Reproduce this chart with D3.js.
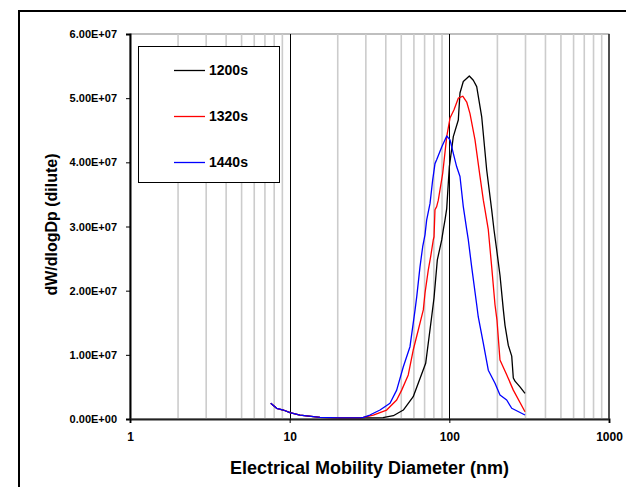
<!DOCTYPE html>
<html><head><meta charset="utf-8">
<script src="https://cdn.jsdelivr.net/npm/d3@7"></script>
<style>
html,body{margin:0;padding:0;background:#fff;overflow:hidden;}
text{font-family:Arial,"Liberation Sans",sans-serif;font-weight:bold;fill:#000;}
</style></head>
<body>
<svg id="chart" width="626" height="487"></svg>
<script>
// ---- data ----
const seriesNames = ["1200s", "1320s", "1440s"];
const seriesColors = ["#000000", "#ff0000", "#0000ff"];

const dp1200 = [7.61,8.29,9.12,10.05,11.6,15.5,20.7,27.6,38.4,44.6,51.5,59.4,71.1,77.5,80.2,84.1,89.6,91.7,93.9,96.3,100,105.9,113.8,116.6,122.3,133.4,141.3,148.4,159.5,171.4,184.2,190.4,198.1,207.6,217.9,223.2,234,245.9,251.6,257.8,277,297.8];
const v1200 = [0.245e7,0.167e7,0.14e7,0.098e7,0.062e7,0.026e7,0.016e7,0.016e7,0.02e7,0.051e7,0.14e7,0.348e7,0.868e7,1.594e7,1.89e7,2.48e7,2.79e7,2.95e7,3.10e7,3.28e7,3.93e7,4.40e7,4.66e7,5.08e7,5.26e7,5.345e7,5.28e7,5.18e7,4.71e7,3.88e7,3.26e7,2.95e7,2.63e7,2.24e7,1.70e7,1.46e7,1.15e7,0.98e7,0.64e7,0.59e7,0.50e7,0.40e7];

const dp1320 = [7.61,8.29,9.12,10.05,11.6,15.5,20.7,27.6,28.9,33.4,40.5,46.8,50.3,55.3,59.4,63.9,68.7,70.4,73.8,76.4,79.3,80.2,81.3,83.3,85.3,90.9,96.3,101,107,113.8,121.3,128.5,134.7,144.8,155.6,163.3,167.3,175.4,184.2,193.2,198.8,207.6,228.7,251.6,297.8];
const v1320 = [0.245e7,0.167e7,0.14e7,0.098e7,0.062e7,0.026e7,0.016e7,0.016e7,0.026e7,0.062e7,0.14e7,0.296e7,0.45e7,0.686e7,1.075e7,1.387e7,1.70e7,1.96e7,2.32e7,2.53e7,2.79e7,2.84e7,3.26e7,3.31e7,3.41e7,3.83e7,4.40e7,4.69e7,4.82e7,5.00e7,5.03e7,4.94e7,4.76e7,4.35e7,3.78e7,3.41e7,3.26e7,2.95e7,2.37e7,1.78e7,1.54e7,0.92e7,0.69e7,0.45e7,0.114e7];

const dp1440 = [7.61,8.29,9.12,10.05,11.6,15.5,20.7,27.6,28.9,31.8,36.8,42.5,46.8,51.5,56.7,61.0,62.5,65.5,68.1,70.4,72.1,75.7,78.6,81.3,83.3,89.6,96.3,101,105.9,111.2,116.6,122.3,128.5,131.5,138,148.4,151.8,163.3,175.4,193.2,207.6,228.7,245.9,297.8];
const v1440 = [0.245e7,0.167e7,0.14e7,0.098e7,0.062e7,0.026e7,0.016e7,0.016e7,0.026e7,0.062e7,0.14e7,0.245e7,0.45e7,0.815e7,1.127e7,1.70e7,1.906e7,2.37e7,2.685e7,2.87e7,3.10e7,3.36e7,3.72e7,3.98e7,4.04e7,4.24e7,4.41e7,4.35e7,4.14e7,3.93e7,3.78e7,3.31e7,2.95e7,2.79e7,2.37e7,1.78e7,1.59e7,1.18e7,0.76e7,0.556e7,0.374e7,0.296e7,0.167e7,0.062e7];

const xTicks = [1, 10, 100, 1000];
const xTickLabels = ["1", "10", "100", "1000"];
const xMinorGrid = [2,3,4,5,6,7,8,9,20,30,40,50,60,70,80,90,200,300,400,500,600,700,800,900];
const xMajorGrid = [10, 100];
const yTicks = [0, 1e7, 2e7, 3e7, 4e7, 5e7, 6e7];
const yTickLabels = ["0.00E+00","1.00E+07","2.00E+07","3.00E+07","4.00E+07","5.00E+07","6.00E+07"];
const xTitle = "Electrical Mobility Diameter (nm)";
const yTitle = "dW/dlogDp (dilute)";

// ---- drawing ----
const svg = d3.select("#chart");
const L = 130, R = 609, T = 34, B = 419;
const x = d3.scaleLog().domain([1, 1000]).range([L, R]);
const y = d3.scaleLinear().domain([0, 6e7]).range([B, T]);

// outer frame
svg.append("rect").attr("x", 19).attr("y", 11).attr("width", 800).attr("height", 600)
  .attr("fill", "#fff").attr("stroke", "#000").attr("stroke-width", 2);

// plot area
svg.append("rect").attr("x", L).attr("y", T).attr("width", R - L).attr("height", B - T)
  .attr("fill", "#fff").attr("stroke", "#808080").attr("stroke-width", 1);

// minor gridlines
svg.append("g").selectAll("line").data(xMinorGrid).join("line")
  .attr("x1", d => x(d)).attr("x2", d => x(d)).attr("y1", T).attr("y2", B)
  .attr("stroke", "#cccccc").attr("stroke-width", 1.6);
// major gridlines
svg.append("g").selectAll("line").data(xMajorGrid).join("line")
  .attr("x1", d => Math.round(x(d)) + 0.5).attr("x2", d => Math.round(x(d)) + 0.5).attr("y1", T).attr("y2", B)
  .attr("stroke", "#000").attr("stroke-width", 1);

// right border
svg.append("line").attr("x1", R).attr("x2", R).attr("y1", T).attr("y2", B)
  .attr("stroke", "#333").attr("stroke-width", 1.6);

// curves
const line = d3.line().x(d => x(d.dp)).y(d => y(d.v));
const seriesData = [
  dp1200.map((d, i) => ({dp: d, v: v1200[i]})),
  dp1320.map((d, i) => ({dp: d, v: v1320[i]})),
  dp1440.map((d, i) => ({dp: d, v: v1440[i]}))
];
// draw 1440 first? reference: blue on top in tail; draw black, red, blue
seriesData.forEach((s, i) => {
  svg.append("path").datum(s).attr("d", line)
    .attr("fill", "none").attr("stroke", seriesColors[i]).attr("stroke-width", 1.3)
    .attr("stroke-linejoin", "round");
});

// y axis
const yAxis = d3.axisLeft(y).tickValues(yTicks)
  .tickFormat((d, i) => yTickLabels[i]).tickSize(4).tickPadding(9);
const gy = svg.append("g").attr("transform", `translate(${L},0)`).call(yAxis);
gy.select(".domain").attr("stroke", "#000").attr("stroke-width", 2);
gy.selectAll(".tick line").attr("stroke", "#000").attr("stroke-width", 1);
gy.selectAll(".tick text").attr("font-size", 11).attr("font-weight", "bold")
  .attr("font-family", "Arial, 'Liberation Sans', sans-serif").attr("fill", "#000");

// x axis
const xAxis = d3.axisBottom(x).tickValues(xTicks)
  .tickFormat((d, i) => xTickLabels[i]).tickSize(4);
const gx = svg.append("g").attr("transform", `translate(0,${B})`).call(xAxis);
gx.select(".domain").attr("stroke", "#222").attr("stroke-width", 2);
gx.selectAll(".tick line").attr("stroke", "#000").attr("stroke-width", 1);
gx.selectAll(".tick text").attr("font-size", 12).attr("font-weight", "bold")
  .attr("font-family", "Arial, 'Liberation Sans', sans-serif").attr("fill", "#000")
  .attr("y", 22).attr("dy", null);

// titles
svg.append("text").attr("x", (L + R) / 2).attr("y", 473.5).attr("text-anchor", "middle")
  .attr("font-size", 18).text(xTitle);
svg.append("text").attr("transform", `translate(56.5,${(T + B) / 2 - 2}) rotate(-90)`)
  .attr("text-anchor", "middle").attr("font-size", 16).text(yTitle);

// legend
const lg = svg.append("g");
lg.append("rect").attr("x", 138.5).attr("y", 46.5).attr("width", 141).attr("height", 136)
  .attr("fill", "#fff").attr("stroke", "#000").attr("stroke-width", 1);
const legendY = [70, 116, 162];
seriesNames.forEach((n, i) => {
  lg.append("line").attr("x1", 174).attr("x2", 205).attr("y1", legendY[i] + 0.5).attr("y2", legendY[i] + 0.5)
    .attr("stroke", seriesColors[i]).attr("stroke-width", 1.3);
  lg.append("text").attr("x", 209).attr("y", legendY[i] + 5).attr("font-size", 14).text(n);
});
</script>
</body></html>
